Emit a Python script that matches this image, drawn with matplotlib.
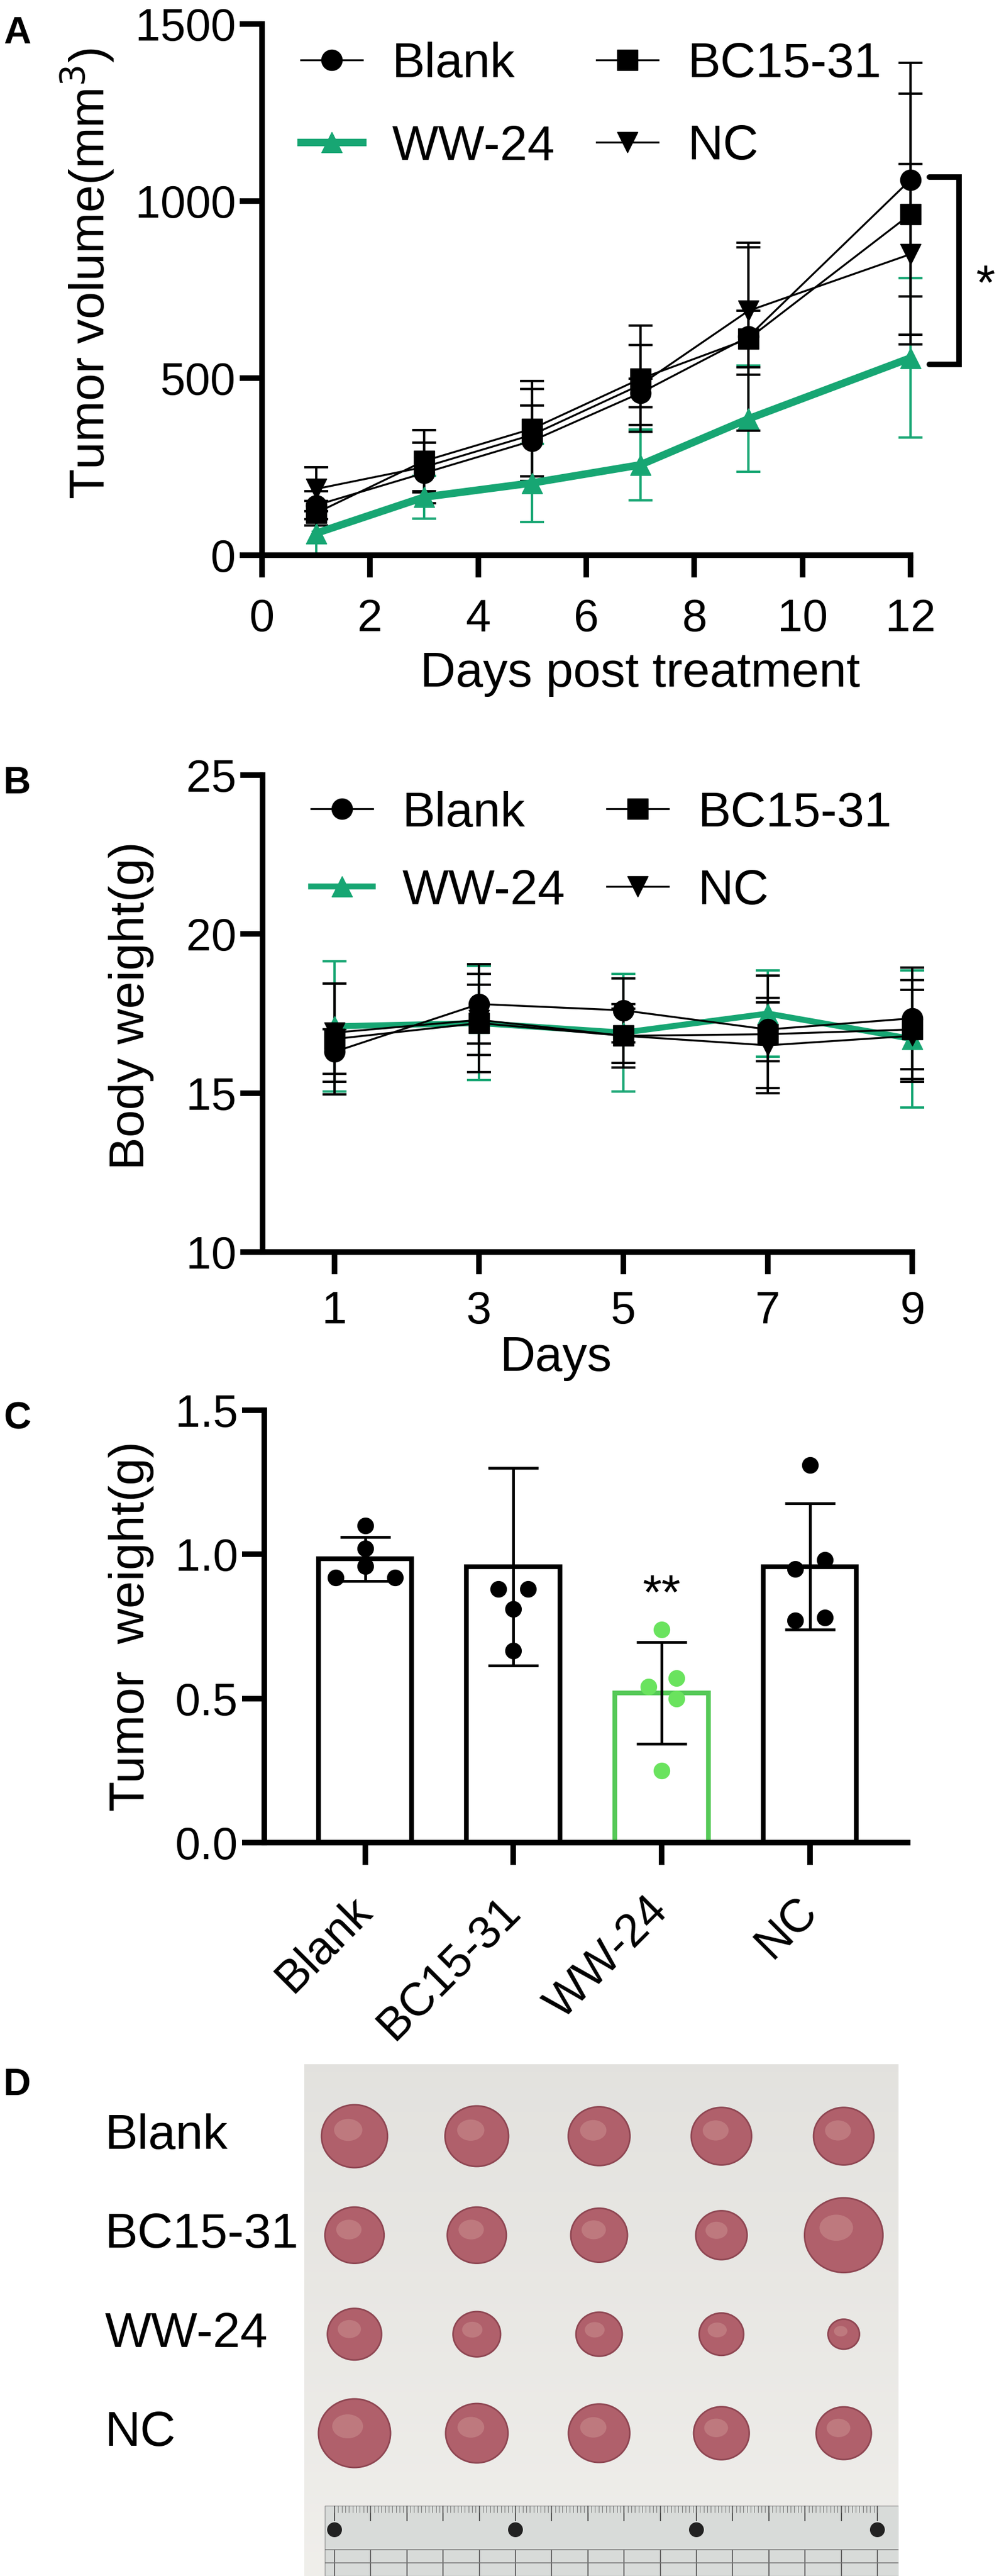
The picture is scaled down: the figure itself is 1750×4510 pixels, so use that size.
import numpy as np
import matplotlib.pyplot as plt
from matplotlib.patches import Ellipse, Rectangle, Circle

plt.rcParams['font.family'] = ['Liberation Sans', 'DejaVu Sans']

GREEN = '#17a673'
BAR_GREEN = '#55c957'
DOT_GREEN = '#6ae35e'

groups = ['Blank', 'BC15-31', 'WW-24', 'NC']

# A: tumor volume (mm3), mean and SD
days_a = [1, 3, 5, 7, 9, 12]
vol_blank = [141, 232, 323, 458, 617, 1060]
vol_blank_sd = [40, 85, 100, 40, 265, 330]
vol_bc = [119, 266, 357, 498, 611, 963]
vol_bc_sd = [35, 88, 135, 150, 80, 340]
vol_ww = [62, 164, 204, 255, 385, 557]
vol_ww_sd = [62, 60, 110, 100, 150, 225]
vol_nc = [187, 249, 340, 481, 690, 850]
vol_nc_sd = [62, 68, 130, 113, 180, 255]

# B: body weight (g)
days_b = [1, 3, 5, 7, 9]
bw_blank = [16.3, 17.8, 17.6, 17.0, 17.35]
bw_blank_sd = [0.7, 1.25, 1.0, 1.0, 1.6]
bw_bc = [16.7, 17.2, 16.8, 16.85, 17.0]
bw_bc_sd = [1.75, 1.55, 0.85, 1.85, 1.55]
bw_ww = [17.1, 17.2, 16.9, 17.5, 16.7]
bw_ww_sd = [2.05, 1.8, 1.85, 1.35, 2.15]
bw_nc = [16.9, 17.3, 16.8, 16.5, 16.8]
bw_nc_sd = [1.55, 1.1, 1.0, 1.35, 1.45]

# C: tumor weight (g), individual mice
w_blank = [1.10, 1.02, 0.96, 0.92, 0.92]
w_bc = [0.88, 0.88, 0.81, 0.665, 1.55]
w_ww = [0.74, 0.57, 0.54, 0.50, 0.25]
w_nc = [1.31, 0.98, 0.95, 0.78, 0.77]
weights = [w_blank, w_bc, w_ww, w_nc]
jitter = [[0, 0, 0, -0.2, 0.2], [-0.1, 0.1, 0, 0, 0],
          [0, 0.1, -0.09, 0.1, 0], [0, 0.1, -0.1, 0.1, -0.1]]

W, H = 1750, 4510
fig = plt.figure(figsize=(W / 100, H / 100), dpi=100)


def px_axes(left, top, right, bottom):
    return fig.add_axes([left / W, 1 - bottom / H, (right - left) / W, (bottom - top) / H])


def style(ax, lw=7):
    for s in ['top', 'right']:
        ax.spines[s].set_visible(False)
    for s in ['left', 'bottom']:
        ax.spines[s].set_linewidth(lw)
        ax.spines[s].set_capstyle('projecting')
    ax.tick_params(width=lw, length=28, labelsize=57)
    ax.tick_params(axis='y', pad=5)


legend_kw = dict(ncol=2, loc='upper left', frameon=False, fontsize=62, handlelength=1.25,
                 handletextpad=0.6, columnspacing=0.85, borderpad=0, borderaxespad=0)

# ---------------- A ----------------
ax = px_axes(459, 42, 1595, 972)
style(ax)
series_a = [(vol_ww, vol_ww_sd, '^', GREEN, 9.5), (vol_blank, vol_blank_sd, 'o', 'black', 2.4),
            (vol_bc, vol_bc_sd, 's', 'black', 2.4), (vol_nc, vol_nc_sd, 'v', 'black', 2.4)]
lines_a = []
for y, e, m, c, lw in series_a:
    eb = ax.errorbar(days_a, y, yerr=e, fmt='-' + m, color=c, lw=lw, ms=26,
                     elinewidth=3, capsize=15, capthick=3, clip_on=False)
    lines_a.append(eb[0])
ax.set_xlim(0, 12)
ax.set_ylim(0, 1500)
ax.set_xticks(range(0, 13, 2))
ax.set_yticks([0, 500, 1000, 1500])
ax.tick_params(axis='x', pad=26)
ax.set_xlabel('Days post treatment', fontsize=62)
ax.xaxis.set_label_coords(0.583, -0.181)
ax.set_ylabel('Tumor volume(mm$^3$)', fontsize=62)
ax.yaxis.set_label_coords(-0.225, 0.53)
ax.legend([lines_a[1], lines_a[0], lines_a[2], lines_a[3]], ['Blank', 'WW-24', 'BC15-31', 'NC'],
          bbox_to_anchor=(0.06, 0.967), labelspacing=0.75, **legend_kw)
# significance bracket
top, bot = vol_blank[-1] + 8, vol_ww[-1] - 18
ax.plot([12.35, 12.9, 12.9, 12.35], [top, top, bot, bot], color='black', lw=7,
        solid_capstyle='round', solid_joinstyle='miter', clip_on=False)
ax.text(13.39, 722, '*', fontsize=62, ha='center', va='baseline')

# ---------------- B ----------------
ax = px_axes(460, 1357, 1598, 2192)
style(ax)
series_b = [(bw_ww, bw_ww_sd, '^', GREEN, 7.5), (bw_blank, bw_blank_sd, 'o', 'black', 2.4),
            (bw_bc, bw_bc_sd, 's', 'black', 2.4), (bw_nc, bw_nc_sd, 'v', 'black', 2.4)]
lines_b = []
for y, e, m, c, lw in series_b:
    eb = ax.errorbar(days_b, y, yerr=e, fmt='-' + m, color=c, lw=lw, ms=26,
                     elinewidth=3, capsize=15, capthick=3, clip_on=False)
    lines_b.append(eb[0])
ax.set_xlim(0, 9)
ax.set_ylim(10, 25)
ax.set_xticks(days_b)
ax.set_yticks([10, 15, 20, 25])
ax.tick_params(axis='x', pad=20)
ax.set_xlabel('Days', fontsize=62)
ax.xaxis.set_label_coords(0.452, -0.175)
ax.set_ylabel('Body weight(g)', fontsize=62)
ax.yaxis.set_label_coords(-0.167, 0.517)
ax.legend([lines_b[1], lines_b[0], lines_b[2], lines_b[3]], ['Blank', 'WW-24', 'BC15-31', 'NC'],
          bbox_to_anchor=(0.075, 0.967), labelspacing=0.65, **legend_kw)

# ---------------- C ----------------
ax = px_axes(463, 2469, 1590, 3226)
style(ax)
xpos = np.arange(len(groups))
means = [np.mean(w) for w in weights]
sds = [np.std(w, ddof=1) for w in weights]
edge = ['black', 'black', BAR_GREEN, 'black']
dots = ['black', 'black', DOT_GREEN, 'black']
ax.bar(xpos, means, width=0.63, color='white', edgecolor=edge, lw=6, zorder=2)
for i, w in enumerate(weights):
    ax.plot(xpos[i] + np.array(jitter[i]), w, 'o', color=dots[i], ms=20, zorder=3)
ax.errorbar(xpos, means, yerr=sds, fmt='none', ecolor='black', elinewidth=3.5,
            capsize=32, capthick=3.5, zorder=4)
ax.text(xpos[2], 0.81, '**', fontsize=62, ha='center', va='baseline')
ax.set_xlim(-0.68, 3.66)
ax.set_ylim(0, 1.5)
ax.set_yticks([0, 0.5, 1.0, 1.5])
ax.set_yticklabels(['0.0', '0.5', '1.0', '1.5'])
ax.set_xticks(xpos)
ax.set_xticklabels(groups, rotation=45, ha='right', va='center', rotation_mode='anchor',
                   fontsize=58)
ax.tick_params(axis='x', pad=50)
ax.set_ylabel('Tumor  weight(g)', fontsize=62)
ax.yaxis.set_label_coords(-0.171, 0.5)

# ---------------- D (tumor photo sketch) ----------------
ax = px_axes(533, 3614, 1574, 4510)
ax.set_xlim(0, 1041)
ax.set_ylim(896, 0)
ax.axis('off')
grad = np.linspace(0.89, 0.94, 64)[:, None] * np.ones((64, 64))
ax.imshow(np.dstack([grad, grad * 0.995, grad * 0.98]), extent=[0, 1041, 896, 0], aspect='auto')
row_y = np.linspace(126, 646, 4)
col_x = np.linspace(88, 945, 5)
for i, w in enumerate(weights):
    for j, v in enumerate(w):
        d = 105 * np.sqrt(v)
        ax.add_patch(Ellipse((col_x[j], row_y[i]), d * 1.05, d, fc='#b0606b', ec='#8e4652', lw=2))
        ax.add_patch(Ellipse((col_x[j] - d * 0.1, row_y[i] - d * 0.1), d * 0.45, d * 0.35,
                             fc='#c98a8c', ec='none', alpha=0.6))
    ax.text(-349, row_y[i], groups[i], fontsize=62, ha='left', va='center', clip_on=False)
# ruler
ax.add_patch(Rectangle((36, 773), 1005, 123, fc='#d8dbd9', ec='#9a9a9a', lw=1))
cm = np.arange(16)
ax.vlines(53 + 63.4 * cm, 773, 800, color='#555555', lw=1.5)
ax.vlines(53 + 6.34 * np.arange(151), 773, 785, color='#777777', lw=0.8)
ax.vlines(53 + 63.4 * cm, 850, 896, color='#666666', lw=1.5)
ax.hlines([850, 873], 36, 1041, color='#777777', lw=1.2)
for k in [0, 5, 10, 15]:
    ax.add_patch(Circle((53 + 63.4 * k, 815), 13, fc='#222222', ec='none'))

# panel letters
for letter, y in [('A', 28), ('B', 1341), ('C', 2453), ('D', 3620)]:
    fig.text(6 / W, 1 - y / H, letter, fontsize=48, fontweight='bold', ha='left', va='top')

fig.savefig('out.png', dpi=100)
